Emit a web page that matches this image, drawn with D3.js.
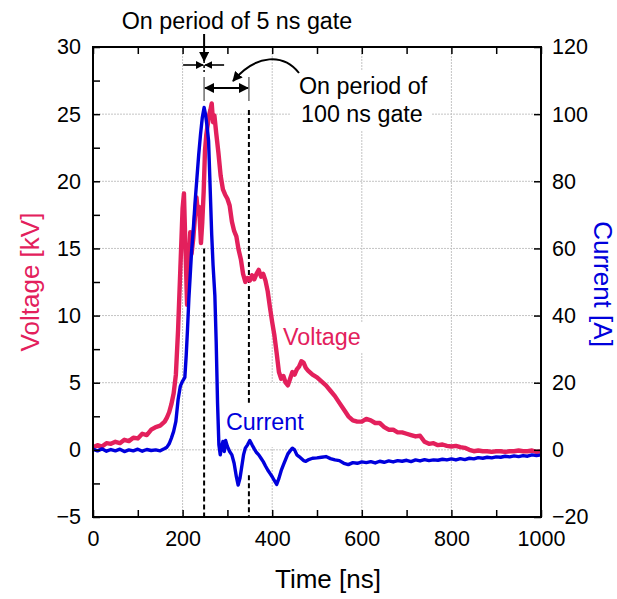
<!DOCTYPE html>
<html><head><meta charset="utf-8">
<script src="https://cdn.jsdelivr.net/npm/d3@7"></script>
<style>
html,body{margin:0;padding:0;background:#fff;}
svg{display:block;font-family:"Liberation Sans",Arial,sans-serif;}
</style></head>
<body><svg id="c" width="617" height="599"></svg>
<script>
// ---- data ----
const voltTime = [0,10,20,30,40,50,60,70,80,90,100,110,120,130,140,150,160,165,170,175,180,185,190,195,200,203,206,210,213,217,220,224,228,231,234,237,241,244,247,250,253,256,259,262,265,268,271,275,280,285,290,295,300,305,310,315,320,325,330,335,340,345,350,355,360,365,370,375,380,385,390,395,400,405,410,415,420,425,430,435,440,445,450,455,460,465,470,475,480,490,500,510,520,530,540,550,560,570,580,590,600,610,620,630,640,650,660,670,680,690,700,710,720,730,740,750,760,770,780,790,800,810,820,830,840,850,860,870,880,890,900,910,920,930,940,950,960,970,980,990,1000];
const voltValues = [0.2,0.35,0.25,0.5,0.45,0.6,0.5,0.75,0.65,0.9,0.85,1.2,1.1,1.5,1.7,1.8,2.1,2.4,2.8,3.4,4.2,5.6,9.0,13.5,18.0,19.1,15.5,10.8,13.0,16.2,14.6,15.8,17.5,18.8,17.6,18.1,15.4,17.0,19.2,22.3,23.5,24.2,24.9,25.3,25.8,24.4,24.9,23.6,22.1,20.4,19.4,19.0,18.7,18.2,17.0,16.3,15.9,14.9,14.2,13.1,12.5,12.8,12.6,13.0,12.7,13.1,13.4,12.9,13.1,12.6,11.8,10.6,9.5,8.5,7.2,5.8,5.3,5.5,5.0,4.8,5.3,5.8,5.6,6.0,6.2,6.6,6.5,6.1,5.9,5.6,5.4,5.1,4.8,4.4,4.0,3.5,3.0,2.5,2.2,2.1,2.1,2.3,2.2,2.0,2.0,1.7,1.5,1.5,1.3,1.3,1.2,1.1,1.0,1.05,0.6,0.45,0.5,0.35,0.4,0.3,0.25,0.3,0.2,0.15,0.0,-0.1,-0.05,-0.1,-0.1,-0.15,-0.1,-0.1,-0.15,-0.1,-0.1,-0.05,-0.1,-0.1,-0.05,-0.15,-0.1];
const currTime = [0,10,20,30,40,50,60,70,80,90,100,110,120,130,140,150,160,165,170,175,180,185,190,195,200,205,208,211,214,217,220,224,228,232,236,240,244,248,251,255,258,261,265,268,272,275,278,281,284,287,290,293,296,300,305,310,315,320,324,328,332,336,340,345,350,355,360,365,370,375,380,385,390,395,400,405,410,415,420,425,430,435,440,445,450,455,460,465,470,475,480,490,500,510,520,530,540,550,560,570,580,590,600,610,620,630,640,650,660,670,680,690,700,710,720,730,740,750,760,770,780,790,800,810,820,830,840,850,860,870,880,890,900,910,920,930,940,950,960,970,980,990,1000];
const currValues = [0.2,-0.3,0.3,-0.4,0.1,-0.3,0.2,-0.5,0.0,-0.3,0.2,-0.4,0.1,-0.2,0.0,-0.3,0.4,0.8,1.8,3.5,5.5,8.5,15.0,19.0,20.5,21.6,28,36,45,52,59,66,74,81,88,94,99,102,100,96,92,80,64,55,46,32,14,1.5,-1.5,1.0,2.5,-0.5,2.8,1.0,-0.5,-1.5,-4.0,-8.0,-10.5,-8.5,-5.0,-1.5,0.5,1.5,2.8,1.5,0.3,-0.8,-1.5,-2.5,-3.5,-4.8,-6.0,-7.0,-8.0,-9.2,-10.3,-8.5,-6.2,-4.5,-2.8,-1.2,-0.3,0.5,0.0,-1.5,-2.0,-2.6,-3.2,-3.4,-3.0,-2.5,-2.4,-2.2,-2.0,-2.6,-3.0,-3.2,-4.0,-4.4,-3.8,-4.0,-3.6,-3.8,-3.5,-3.9,-3.4,-3.7,-3.3,-3.6,-3.2,-3.4,-3.1,-3.5,-3.0,-3.3,-2.9,-3.2,-3.0,-3.1,-2.8,-3.0,-2.7,-3.0,-2.6,-2.9,-2.5,-2.7,-2.3,-2.5,-2.2,-2.4,-2.1,-2.2,-1.9,-2.1,-1.8,-2.0,-1.7,-1.9,-1.5,-1.7,-1.5];
const xTicks = [0,100,200,300,400,500,600,700,800,900,1000];
const xLabels = [0,200,400,600,800,1000];
const vTicks = [-5,-2.5,0,2.5,5,7.5,10,12.5,15,17.5,20,22.5,25,27.5,30];
const vLabels = [-5,0,5,10,15,20,25,30];
const iTicks = [-20,0,20,40,60,80,100,120];
const xGrid = [200,400,600,800];
const vGrid = [0,5,10,15,20,25];
const gateTimes = [248,348];            // ns: 5 ns gate end / 100 ns gate end
const gateDash = [[248,15,-5],[348,25.3,3.5],[348,-1.9,-5]]; // [t, vFrom, vTo]

// ---- layout ----
const M = {l:93, r:541, t:47, b:517};
const VCOL = "#e3205c", ICOL = "#0000dc";
const svg = d3.select("#c");
const x = d3.scaleLinear().domain([0,1000]).range([M.l,M.r]);
const yV = d3.scaleLinear().domain([-5,30]).range([M.b,M.t]);
const yI = d3.scaleLinear().domain([-20,120]).range([M.b,M.t]);

// grid
const grid = svg.append("g").attr("stroke","#c4c4c4").attr("stroke-width",1).attr("stroke-dasharray","2,1");
grid.selectAll(".gx").data(xGrid).join("line").attr("x1",d=>x(d)).attr("x2",d=>x(d)).attr("y1",M.t).attr("y2",M.b);
grid.selectAll(".gy").data(vGrid).join("line").attr("y1",d=>yV(d)).attr("y2",d=>yV(d)).attr("x1",M.l).attr("x2",M.r);

// white label boxes (hide grid)
const boxes = [[290,70,142,60],[280,322,85,30],[222,383,85,64]];
svg.selectAll(".box").data(boxes).join("rect").attr("x",d=>d[0]).attr("y",d=>d[1]).attr("width",d=>d[2]).attr("height",d=>d[3]).attr("fill","#fff");

// dashed gate lines
svg.selectAll(".gd").data(gateDash).join("line")
  .attr("x1",d=>x(d[0])).attr("x2",d=>x(d[0])).attr("y1",d=>yV(d[1])).attr("y2",d=>yV(d[2]))
  .attr("stroke","#000").attr("stroke-width",2).attr("stroke-dasharray","5,3");

// curves
const vData = voltTime.map((t,i)=>[t,voltValues[i]]);
const iData = currTime.map((t,i)=>[t,currValues[i]]);
svg.append("path").datum(vData).attr("fill","none").attr("stroke",VCOL).attr("stroke-width",4.4).attr("stroke-linejoin","round")
  .attr("d",d3.line().x(d=>x(d[0])).y(d=>yV(d[1])));
svg.append("path").datum(iData).attr("fill","none").attr("stroke",ICOL).attr("stroke-width",3.4).attr("stroke-linejoin","round")
  .attr("d",d3.line().x(d=>x(d[0])).y(d=>yI(d[1])));

// axes
const fs = "21.5px";
function style(g){ g.selectAll("path").remove(); g.selectAll("line").attr("stroke","#000").attr("stroke-width",1.5); g.selectAll("text").attr("fill","#000").style("font-size",fs).style("font-family","Liberation Sans, Arial, sans-serif"); }
svg.append("g").attr("transform",`translate(0,${M.b})`)
  .call(d3.axisBottom(x).tickValues(xTicks).tickSize(-7).tickPadding(14).tickFormat(d=>xLabels.includes(d)?d3.format("d")(d):""))
  .call(style);
svg.append("g").attr("transform",`translate(0,${M.t})`)
  .call(d3.axisTop(x).tickValues(xTicks).tickSize(-7).tickFormat(""))
  .call(style);
svg.append("g").attr("transform",`translate(${M.l},0)`)
  .call(d3.axisLeft(yV).tickValues(vTicks).tickSize(-7).tickPadding(12).tickFormat(d=>vLabels.includes(d)?d3.format("d")(d):""))
  .call(style);
svg.append("g").attr("transform",`translate(${M.r},0)`)
  .call(d3.axisRight(yI).tickValues(iTicks).tickSize(-7).tickPadding(11).tickFormat(d3.format("d")))
  .call(style);
svg.append("rect").attr("x",M.l).attr("y",M.t).attr("width",M.r-M.l).attr("height",M.b-M.t)
  .attr("fill","none").attr("stroke","#000").attr("stroke-width",2);

// titles
const tf = "26px";
svg.append("text").attr("x",328).attr("y",588).attr("text-anchor","middle").style("font-size",tf).text("Time [ns]");
svg.append("text").attr("transform","translate(39,282) rotate(-90)").attr("text-anchor","middle").style("font-size",tf).attr("fill",VCOL).text("Voltage [kV]");
svg.append("text").attr("transform","translate(594,284) rotate(90)").attr("text-anchor","middle").style("font-size",tf).attr("fill",ICOL).text("Current [A]");

// series labels
const af = "23.3px";
svg.append("text").attr("x",283).attr("y",345).style("font-size",af).attr("fill",VCOL).text("Voltage");
svg.append("text").attr("x",226).attr("y",430).style("font-size",af).attr("fill",ICOL).text("Current");

// annotations
const defs = svg.append("defs");
defs.append("marker").attr("id","ah").attr("viewBox","0 0 10 10").attr("refX",9).attr("refY",5)
  .attr("markerWidth",5).attr("markerHeight",5).attr("orient","auto-start-reverse")
  .append("path").attr("d","M0,0 L10,5 L0,10 z").attr("fill","#000");
const g5 = x(gateTimes[0]), g100 = x(gateTimes[1]);
svg.append("text").attr("x",237).attr("y",29).attr("text-anchor","middle").style("font-size",af).text("On period of 5 ns gate");
svg.append("line").attr("x1",g5).attr("x2",g5).attr("y1",34).attr("y2",61).attr("stroke","#000").attr("stroke-width",2).attr("marker-end","url(#ah)");
svg.append("line").attr("x1",g5-21).attr("x2",g5-1).attr("y1",65).attr("y2",65).attr("stroke","#000").attr("stroke-width",1.6).attr("marker-end","url(#ah)");
svg.append("line").attr("x1",g5+20).attr("x2",g5+1).attr("y1",65).attr("y2",65).attr("stroke","#000").attr("stroke-width",1.6).attr("marker-end","url(#ah)");
svg.append("line").attr("x1",g5).attr("x2",g5).attr("y1",60).attr("y2",72).attr("stroke","#000").attr("stroke-width",1.5).attr("stroke-dasharray","3,2");
svg.selectAll(".ext").data([g5,g100]).join("line").attr("x1",d=>d).attr("x2",d=>d).attr("y1",77).attr("y2",101).attr("stroke","#777").attr("stroke-width",1.6);
svg.append("line").attr("x1",g5+1).attr("x2",g100-1).attr("y1",88).attr("y2",88).attr("stroke","#000").attr("stroke-width",2)
  .attr("marker-start","url(#ah)").attr("marker-end","url(#ah)");
svg.append("path").attr("d","M299,73 C284,54 257,53 233,81").attr("fill","none").attr("stroke","#000").attr("stroke-width",2).attr("marker-end","url(#ah)");
svg.append("text").attr("x",299).attr("y",94).style("font-size",af).text("On period of");
svg.append("text").attr("x",301).attr("y",122).style("font-size",af).text("100 ns gate");
</script></body></html>
